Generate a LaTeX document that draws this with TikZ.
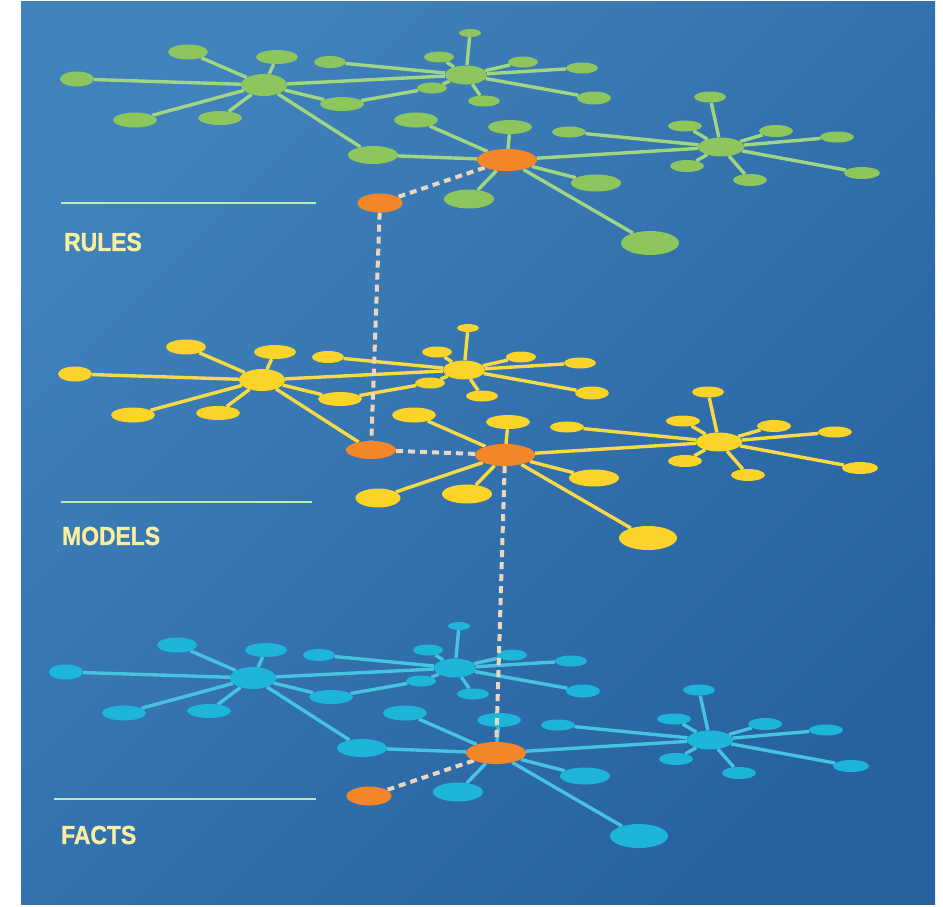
\documentclass[tikz,border=0pt]{standalone}
\usepackage{fontspec}
\newfontfamily\lblfont[BoldFeatures={FakeBold=1.2}]{Liberation Sans}
\usetikzlibrary{shapes.geometric}
\pgfdeclarelayer{bg}
\pgfdeclarelayer{fg}
\pgfsetlayers{bg,main,fg}

\definecolor{bgL}{RGB}{64,130,188}
\definecolor{bgR}{RGB}{38,98,160}
\definecolor{cgreen}{RGB}{140,198,92}
\definecolor{lgreen}{RGB}{160,214,130}
\definecolor{cyellow}{RGB}{250,212,40}
\definecolor{lyellow}{RGB}{248,218,70}
\definecolor{ccyan}{RGB}{30,182,216}
\definecolor{lcyan}{RGB}{70,195,225}
\definecolor{corange}{RGB}{242,134,40}
\definecolor{cdash}{RGB}{236,214,192}
\definecolor{ctext}{RGB}{248,240,160}
\definecolor{crule}{RGB}{190,232,180}

\tikzset{
  nd/.style n args={3}{ellipse, fill=#1, minimum width=#2, minimum height=#3, inner sep=0pt, draw=none},
  ln/.style={draw=#1, line width=3.4pt},
  dashlink/.style={draw=cdash, line width=4pt, dash pattern=on 7pt off 5pt},
  lbl/.style={anchor=west, inner sep=0pt, text=ctext, font=\lblfont\bfseries\fontsize{26}{26}\selectfont},
  ruleline/.style={draw=crule, line width=2pt},
}

% #1 prefix, #2 dx, #3 dy, #4 node colour, #5 line colour, #6 P fill, #7 Q fill, #8 P-C style, #9 Q-C style
\newcommand\netlayer[9]{%
\begin{scope}[shift={(#2,#3)}]
  \node[nd={#4}{46}{22}] (#1A) at (264,85) {};
  \node[nd={#4}{42}{19}] (#1B) at (466,75) {};
  \node[nd={corange}{60}{22}] (#1C) at (507,160) {};
  \node[nd={#4}{46}{19}] (#1D) at (721,147) {};
  \node[nd={#4}{34}{15}] (#1a1) at (77,79) {};
  \node[nd={#4}{40}{15}] (#1a2) at (188,52) {};
  \node[nd={#4}{42}{14}] (#1a3) at (277,57) {};
  \node[nd={#4}{44}{15}] (#1a4) at (135,120) {};
  \node[nd={#4}{44}{14}] (#1a5) at (220,118) {};
  \node[nd={#4}{44}{14}] (#1a6) at (342,104) {};
  \node[nd={#6}{50}{18}] (#1P) at (373,155) {};
  \node[nd={#4}{32}{12}] (#1b0) at (330,62) {};
  \node[nd={#4}{22}{8}] (#1b1) at (470,33) {};
  \node[nd={#4}{30}{11}] (#1b2) at (439,57) {};
  \node[nd={#4}{30}{11}] (#1b3) at (523,62) {};
  \node[nd={#4}{32}{11}] (#1b4) at (582,68) {};
  \node[nd={#4}{34}{13}] (#1b5) at (594,98) {};
  \node[nd={#4}{32}{11}] (#1b6) at (484,101) {};
  \node[nd={#4}{30}{11}] (#1b7) at (432,88) {};
  \node[nd={#4}{44}{15}] (#1c1) at (416,120) {};
  \node[nd={#4}{44}{14}] (#1c2) at (510,127) {};
  \node[nd={#4}{50}{19}] (#1c3) at (469,199) {};
  \node[nd={#4}{50}{17}] (#1c4) at (596,183) {};
  \node[nd={#4}{58}{24}] (#1c5) at (650,243) {};
  \node[nd={#7}{45}{19}] (#1Q) at (380,203) {};
  \node[nd={#4}{34}{11}] (#1d0) at (569,132) {};
  \node[nd={#4}{32}{11}] (#1d1) at (710,97) {};
  \node[nd={#4}{34}{11}] (#1d2) at (685,126) {};
  \node[nd={#4}{34}{12}] (#1d3) at (776,131) {};
  \node[nd={#4}{34}{11}] (#1d4) at (837,137) {};
  \node[nd={#4}{36}{12}] (#1d5) at (862,173) {};
  \node[nd={#4}{34}{12}] (#1d6) at (750,180) {};
  \node[nd={#4}{34}{12}] (#1d7) at (687,166) {};
\end{scope}
\begin{pgfonlayer}{bg}
  \foreach \t in {a1,a2,a3,a4,a5,a6,P,B} \draw[ln=#5] (#1A) -- (#1\t);
  \foreach \t in {b0,b1,b2,b3,b4,b5,b6,b7} \draw[ln=#5] (#1B) -- (#1\t);
  \draw[ln=#5] (#1a6) -- (#1b7);
  \foreach \t in {c1,c2,c3,c4,c5,D} \draw[ln=#5] (#1C) -- (#1\t);
  \foreach \t in {d0,d1,d2,d3,d4,d5,d6,d7} \draw[ln=#5] (#1D) -- (#1\t);
  \draw[#8] (#1C) -- (#1P);
  \draw[#9] (#1C) -- (#1Q);
\end{pgfonlayer}
}

\begin{document}
\begin{tikzpicture}[x=1pt, y=-1pt]
  \useasboundingbox (0,0) rectangle (943,906);
  \begin{pgfonlayer}{bg}
    \fill[white] (0,0) rectangle (943,906);
    \shade[top color=bgL, bottom color=bgR, shading angle=45] (21,1) rectangle (935,904);
  \end{pgfonlayer}

  \netlayer{g}{0}{0}{cgreen}{lgreen}{cgreen}{corange}{ln=lgreen}{dashlink}
  \netlayer{y}{-2}{295}{cyellow}{lyellow}{corange}{cyellow}{dashlink}{ln=lyellow}
  \netlayer{c}{-11}{593}{ccyan}{lcyan}{ccyan}{corange}{ln=lcyan}{dashlink}

  \begin{pgfonlayer}{fg}
    \draw[dashlink] (gQ) -- (yP);
    \draw[dashlink] (yC) -- (cC);
  \end{pgfonlayer}

  \coordinate (r1) at (61,203);  \coordinate (r2) at (316,203);
  \coordinate (m1) at (61,502);  \coordinate (m2) at (312,502);
  \coordinate (f1) at (54,799);  \coordinate (f2) at (316,799);
  \draw[ruleline] (r1) -- (r2);
  \draw[ruleline] (m1) -- (m2);
  \draw[ruleline] (f1) -- (f2);

  \node[lbl] (rules) at (64,242) {\scalebox{0.88}[1]{RULES}};
  \node[lbl] (models) at (62,536) {\scalebox{0.88}[1]{MODELS}};
  \node[lbl] (facts) at (61,835) {\scalebox{0.88}[1]{FACTS}};
\end{tikzpicture}
\end{document}
